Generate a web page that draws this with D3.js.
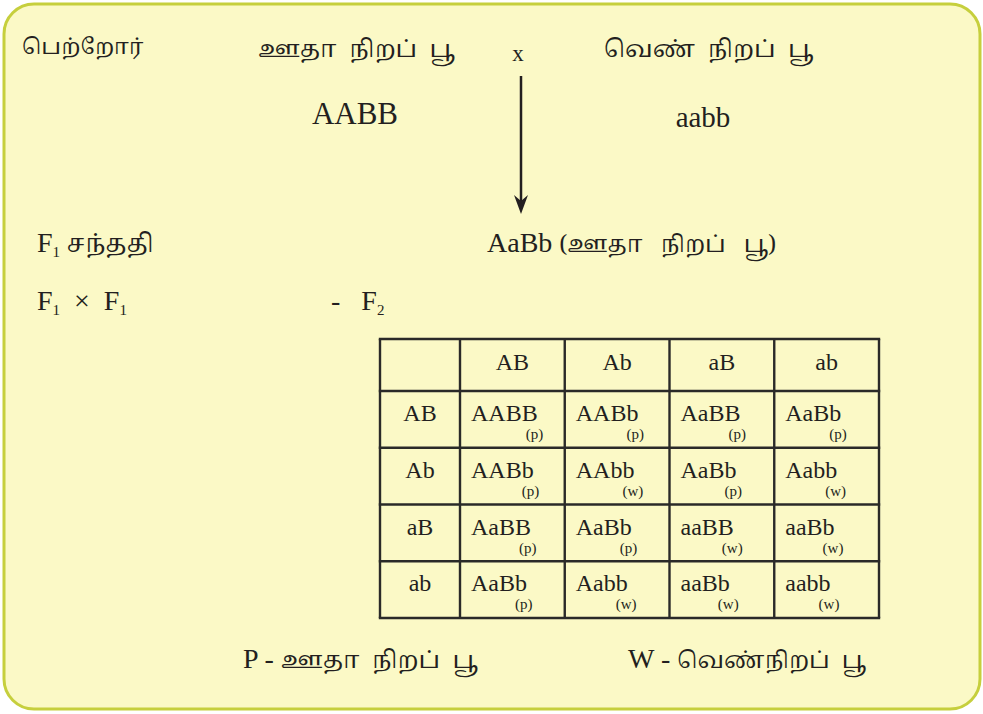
<!DOCTYPE html>
<html><head><meta charset="utf-8">
<script src="https://cdn.jsdelivr.net/npm/d3@7"></script>
<style>html,body{margin:0;padding:0;background:#fff;}</style>
</head><body>
<svg id="c" width="983" height="714"></svg>
<script>
const gametes = ["AB", "Ab", "aB", "ab"];
const genotypes = [
  ["AABB", "AABb", "AaBB", "AaBb"],
  ["AABb", "AAbb", "AaBb", "Aabb"],
  ["AaBB", "AaBb", "aaBB", "aaBb"],
  ["AaBb", "Aabb", "aaBb", "aabb"]
];
const phenotypes = [
  ["p", "p", "p", "p"],
  ["p", "w", "p", "w"],
  ["p", "p", "w", "w"],
  ["p", "w", "w", "w"]
];
const parentLabel = "பெற்றோர்";
const parent1 = "ஊதா  நிறப்  பூ";
const parent2 = "வெண்  நிறப்  பூ";
const geno1 = "AABB", geno2 = "aabb";
const f1Label = "சந்ததி";
const f1Geno = "AaBb";
const f1Pheno = "(ஊதா   நிறப்   பூ)";
const legendP = "ஊதா  நிறப்  பூ";
const legendW = "வெண்நிறப்  பூ";

const tamil = "'Noto Serif Tamil','Noto Sans Tamil','Lohit Tamil','Latha',sans-serif";
const serif = "'Liberation Serif','DejaVu Serif',serif";
const ink = "#231f20";

const svg = d3.select("#c");

svg.append("rect").attr("x", 4).attr("y", 4).attr("width", 976).attr("height", 705)
  .attr("rx", 30).attr("ry", 30).attr("fill", "#fbf9c6").attr("stroke", "#c6cf3d").attr("stroke-width", 3);

function t(x, y, s, size, fam, anchor) {
  return svg.append("text").attr("x", x).attr("y", y).attr("font-size", size)
    .attr("font-family", fam).attr("fill", ink).attr("text-anchor", anchor || "start")
    .style("white-space", "pre").text(s);
}

// Parents
t(22, 54, parentLabel, 22, tamil);
t(258, 57, parent1, 24, tamil);
t(518, 61, "x", 23, serif, "middle");
t(604, 57, parent2, 24, tamil);
t(355, 124, geno1, 31, serif, "middle");
t(703, 127, geno2, 29, serif, "middle");

// Arrow
const ax = 521, ay0 = 76, ay1 = 214;
svg.append("line").attr("x1", ax).attr("y1", ay0).attr("x2", ax).attr("y2", ay1 - 10)
  .attr("stroke", ink).attr("stroke-width", 2.5);
svg.append("path")
  .attr("d", d3.line()([[ax - 7, ay1 - 19], [ax, ay1 - 13], [ax + 7, ay1 - 19], [ax, ay1]]) + "Z")
  .attr("fill", ink);

// F1
const f1 = t(37, 252, "F", 28, serif);
f1.append("tspan").attr("font-size", 15).attr("dy", 5).text("1");
f1.append("tspan").attr("font-size", 25).attr("font-family", tamil).attr("dy", -5).text(" " + f1Label);
const f1g = t(487, 252, f1Geno + " ", 28, serif);
f1g.append("tspan").attr("font-family", tamil).attr("font-size", 23).text(f1Pheno);

// F1 x F1 - F2
const cr = t(37, 310, "F", 28, serif);
cr.append("tspan").attr("font-size", 15).attr("dy", 5).text("1");
cr.append("tspan").attr("dy", -5).text("  ×  F");
cr.append("tspan").attr("font-size", 15).attr("dy", 5).text("1");
const f2 = t(331, 310, "-   F", 28, serif);
f2.append("tspan").attr("font-size", 15).attr("dy", 5).text("2");

// Punnett square
const xCol = d3.scaleBand().domain(gametes).range([460, 879]);
const yRow = d3.scaleBand().domain(gametes).range([391, 618]);
const tLeft = 380, tTop = 339, tRight = 879, tBottom = 618;
const g = svg.append("g");

// header
g.selectAll("text.hdr").data(gametes).join("text").attr("class", "hdr")
  .attr("x", d => xCol(d) + xCol.bandwidth() / 2).attr("y", 370)
  .attr("text-anchor", "middle").attr("font-family", serif).attr("font-size", 24).attr("fill", ink).text(d => d);
g.selectAll("text.rl").data(gametes).join("text").attr("class", "rl")
  .attr("x", (tLeft + 460) / 2).attr("y", d => yRow(d) + yRow.bandwidth() * 0.53)
  .attr("text-anchor", "middle").attr("font-family", serif).attr("font-size", 24).attr("fill", ink).text(d => d);

const cells = [];
gametes.forEach((r, i) => gametes.forEach((c, j) => cells.push({ r, c, geno: genotypes[i][j], ph: phenotypes[i][j] })));
const cg = g.selectAll("g.cell").data(cells).join("g").attr("class", "cell");
cg.each(function (d) {
  const s = d3.select(this);
  const x = xCol(d.c) + 11, y = yRow(d.r) + yRow.bandwidth() * 0.53;
  const m = s.append("text").attr("x", x).attr("y", y).attr("font-family", serif)
    .attr("font-size", 24).attr("fill", ink).text(d.geno);
  const w = m.node().getComputedTextLength();
  s.append("text").attr("x", x + w - 12).attr("y", y + 18).attr("font-family", serif)
    .attr("font-size", 15).attr("fill", ink).text("(" + d.ph + ")");
});

// grid lines
const vx = [tLeft, ...gametes.map(d => xCol(d)), tRight];
const hy = [tTop, ...gametes.map(d => yRow(d)), tBottom];
g.selectAll("line.v").data(vx).join("line").attr("class", "v")
  .attr("x1", d => d).attr("x2", d => d).attr("y1", tTop).attr("y2", tBottom)
  .attr("stroke", "#2a2a28").attr("stroke-width", 2.4);
g.selectAll("line.h").data(hy).join("line").attr("class", "h")
  .attr("y1", d => d).attr("y2", d => d).attr("x1", tLeft - 1.2).attr("x2", tRight + 1.2)
  .attr("stroke", "#2a2a28").attr("stroke-width", 2.4);

// legend
const lp = t(243, 668, "P - ", 28, serif);
lp.append("tspan").attr("font-family", tamil).attr("font-size", 24).text(legendP);
const lw = t(628, 668, "W - ", 28, serif);
lw.append("tspan").attr("font-family", tamil).attr("font-size", 23).text(legendW);
</script>
</body></html>
